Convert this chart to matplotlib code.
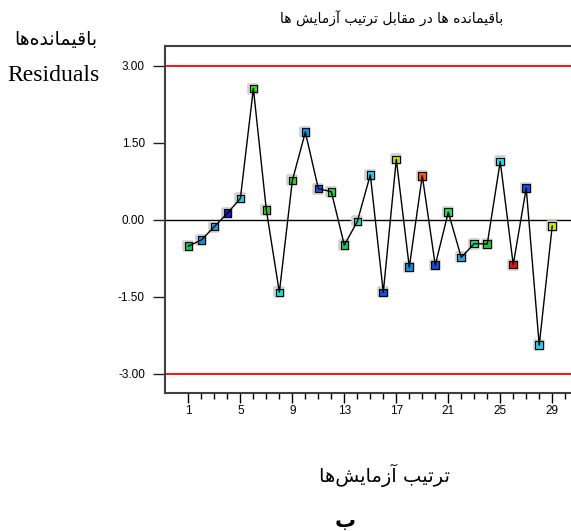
import matplotlib
matplotlib.use('Agg')
import matplotlib.pyplot as plt
from matplotlib.ticker import FixedLocator

# data
run_order = list(range(1, 30))
residuals = [-0.51, -0.39, -0.13, 0.13, 0.42, 2.56, 0.19, -1.41, 0.77, 1.71,
             0.61, 0.55, -0.49, -0.03, 0.88, -1.41, 1.18, -0.92, 0.86, -0.88,
             0.15, -0.73, -0.46, -0.47, 1.14, -0.87, 0.62, -2.44, -0.12]
point_colors = ['#10c060', '#1890d8', '#20a0e0', '#1018c8', '#20c8e0', '#40d810',
                '#30c820', '#20d8e0', '#30d020', '#1090e8', '#1058d8', '#20d040',
                '#10c860', '#20d0b0', '#20d0e8', '#1050e0', '#b8e010', '#1088e0',
                '#f06010', '#1048d8', '#20e050', '#20a8e0', '#20d880', '#20c830',
                '#20e0e8', '#e81010', '#1050e8', '#20d0e8', '#c8e810']
limits = [3.0, -3.0]
y_ticks = [-3.0, -1.5, 0.0, 1.5, 3.0]
x_ticks = [1, 5, 9, 13, 17, 21, 25, 29]

title_txt = 'باقیمانده ها در مقابل ترتیب آزمایش ها'
ylab_fa = 'باقیمانده\u200cها'
ylab_en = 'Residuals'
xlab_txt = 'ترتیب آزمایش\u200cها'
sub_txt = 'ب'

# simple arabic shaping (presentation forms), matplotlib has no bidi
FORMS = {
    '\u0627': ('\uFE8D', '\uFE8E', None, None),
    '\u0622': ('\uFE81', '\uFE82', None, None),
    '\u0628': ('\uFE8F', '\uFE90', '\uFE91', '\uFE92'),
    '\u062A': ('\uFE95', '\uFE96', '\uFE97', '\uFE98'),
    '\u062F': ('\uFEA9', '\uFEAA', None, None),
    '\u0631': ('\uFEAD', '\uFEAE', None, None),
    '\u0632': ('\uFEAF', '\uFEB0', None, None),
    '\u0634': ('\uFEB5', '\uFEB6', '\uFEB7', '\uFEB8'),
    '\u0642': ('\uFED5', '\uFED6', '\uFED7', '\uFED8'),
    '\u0644': ('\uFEDD', '\uFEDE', '\uFEDF', '\uFEE0'),
    '\u0645': ('\uFEE1', '\uFEE2', '\uFEE3', '\uFEE4'),
    '\u0646': ('\uFEE5', '\uFEE6', '\uFEE7', '\uFEE8'),
    '\u0647': ('\uFEE9', '\uFEEA', '\uFEEB', '\uFEEC'),
    '\u06CC': ('\uFBFC', '\uFBFD', '\uFBFE', '\uFBFF'),
}

def shape(text):
    out = []
    for i, c in enumerate(text):
        if c not in FORMS:
            if c != '\u200c':
                out.append(c)
            continue
        prev = text[i-1] if i > 0 else None
        nxt = text[i+1] if i + 1 < len(text) else None
        jp = prev in FORMS and FORMS[prev][2] is not None
        jn = nxt in FORMS and FORMS[c][2] is not None
        iso, fin, ini, med = FORMS[c]
        if jp and jn:
            out.append(med)
        elif jp:
            out.append(fin)
        elif jn and ini:
            out.append(ini)
        else:
            out.append(iso)
    return ''.join(reversed(out))

plt.rcParams['font.family'] = ['Liberation Sans', 'DejaVu Sans']

fig = plt.figure(figsize=(5.71, 5.31), dpi=100)
ax = fig.add_axes([0.289, 0.26, 0.712, 0.6535])

ax.axhline(0, color='black', lw=1.0, zorder=1)
for lim in limits:
    ax.axhline(lim, color='#ff0000', lw=1.3, zorder=1)

# grey halo (thick edge), coloured square, then the line over them
ax.scatter(run_order, residuals, marker='s', s=30, color='#cfcfcf',
           edgecolors='#cfcfcf', linewidths=2.6, zorder=2)
ax.scatter(run_order, residuals, marker='s', s=30, c=point_colors,
           edgecolors='black', linewidths=0.8, zorder=3)
ax.plot(run_order, residuals, color='black', lw=1.0, zorder=4)

ax.set_xlim(-0.8, 30.49)
ax.set_ylim(-3.37, 3.39)
ax.xaxis.set_major_locator(FixedLocator(x_ticks))
ax.xaxis.set_minor_locator(FixedLocator([v for v in range(1, 31) if v not in x_ticks]))
ax.yaxis.set_major_locator(FixedLocator(y_ticks))
ax.set_yticklabels(['%.2f' % v for v in y_ticks])

ax.spines['right'].set_visible(False)
for s in ['left', 'top', 'bottom']:
    ax.spines[s].set_color('#404040')
    ax.spines[s].set_linewidth(1.5)

ax.tick_params(axis='y', length=8.5, width=1, pad=6, labelsize=8.5, color='#202020')
ax.tick_params(axis='x', which='major', length=7, width=1, pad=2, labelsize=8.5)
ax.tick_params(axis='x', which='minor', length=4, width=1)

fig.text(0.685, 0.965, shape(title_txt), ha='center', va='center', fontsize=10,
         family='DejaVu Sans')
fig.text(0.097, 0.925, shape(ylab_fa), ha='center', va='center', fontsize=13.5,
         family='DejaVu Sans')
fig.text(0.094, 0.858, ylab_en, ha='center', va='center', fontsize=17,
         family='Liberation Serif')
fig.text(0.673, 0.105, shape(xlab_txt), ha='center', va='center', fontsize=14,
         family='DejaVu Sans')
fig.text(0.604, 0.018, shape(sub_txt), ha='center', va='center', fontsize=15,
         fontweight='bold', family='DejaVu Sans')

fig.savefig('out.png', dpi=100)
